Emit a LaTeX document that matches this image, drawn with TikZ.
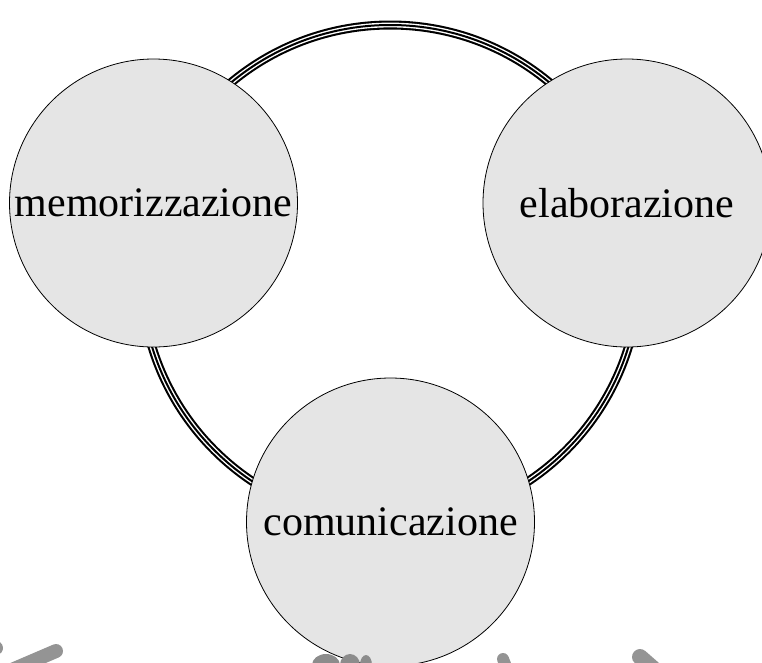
\documentclass[tikz,border=0pt]{standalone}
\usepackage{fontspec}
\setmainfont{Liberation Serif}
\usetikzlibrary{calc}
\tikzset{
  stage/.style={circle, draw=black, line width=0.8pt, fill=black!10,
    minimum size=288pt, inner sep=0pt,
    font=\fontsize{42}{50}\selectfont},
  tripleline/.style={draw=black, line width=9pt,
    postaction={draw=white, line width=4.8pt},
    postaction={draw=black, line width=2pt}},
  tube/.style={draw=black!42, line cap=round, line width=#1},
  blob/.style={fill=black!45}
}
\begin{document}
\begin{tikzpicture}[x=1pt, y=-1pt]
  \useasboundingbox (0,0) rectangle (762,662);
  \clip (0,0) rectangle (762,662);

  % centres of the three stages and of the ring through them
  \coordinate (cm) at (153.5,203);
  \coordinate (ce) at (627,203);
  \coordinate (cc) at (390.5,522);
  \coordinate (ring) at (390.25,274);

  % ring linking the stages
  \draw[tripleline] (ring) circle (249);

  % the three stages
  \node[stage] (mem) at (cm) {memorizzazione};
  \node[stage] (ela) at (ce) {elaborazione};
  \node[stage] (com) at (cc) {comunicazione};

  % grey tubes along the lower edge
  \coordinate (t1a) at (56,651);   \coordinate (t1b) at (0,675);
  \coordinate (t2a) at (-4,648);   \coordinate (t2b) at (-30,662);
  \coordinate (t3a) at (503,659);  \coordinate (t3b) at (515,690);
  \coordinate (t4a) at (640,657);  \coordinate (t4b) at (680,692);
  \draw[tube=14pt] (t1a) -- (t1b);
  \draw[tube=14pt] (t2a) -- (t2b);
  \draw[tube=12pt] (t3a) -- (t3b);
  \draw[tube=16pt] (t4a) -- (t4b);
  \fill[blob] (326,665) ellipse (14 and 11);
  \fill[blob] (350,665) ellipse (10 and 11);
  \fill[blob] (366,665) ellipse (6 and 10);
\end{tikzpicture}
\end{document}
